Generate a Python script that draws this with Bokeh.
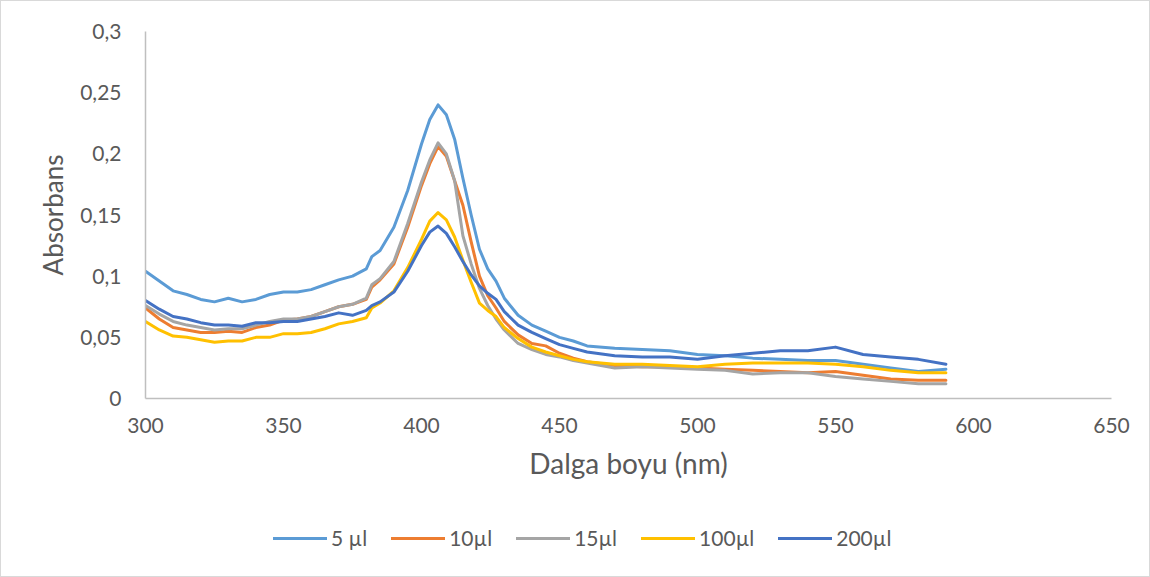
from bokeh.plotting import figure
from bokeh.layouts import column
from bokeh.models import Legend, LegendItem, CustomJSTickFormatter, FixedTicker, Range1d
from bokeh.embed import file_html
from bokeh.resources import INLINE

wavelength = [300,305,310,315,320,325,330,335,340,345,350,355,360,365,370,375,380,382,385,390,395,400,
              403,406,409,412,415,418,421,424,427,430,435,440,445,450,455,460,470,480,490,500,510,520,
              530,540,550,560,570,580,590]

s5 = [.104,.096,.088,.085,.081,.079,.082,.079,.081,.085,.087,.087,.089,.093,.097,.100,.106,.116,.121,.140,.170,.208,
      .228,.240,.232,.212,.180,.150,.122,.106,.096,.082,.068,.060,.055,.050,.047,.043,.041,.040,.039,.036,.035,.033,
      .032,.031,.031,.028,.025,.022,.024]
s10 = [.074,.065,.058,.056,.054,.054,.055,.054,.058,.060,.064,.065,.067,.071,.075,.077,.081,.091,.097,.110,.140,.174,
       .192,.206,.198,.178,.158,.128,.100,.084,.074,.063,.052,.045,.043,.037,.033,.030,.027,.026,.026,.025,.024,.023,
       .022,.021,.022,.019,.016,.015,.015]
s15 = [.076,.069,.063,.060,.058,.056,.057,.057,.060,.063,.065,.065,.067,.071,.075,.077,.082,.093,.098,.112,.143,.177,
       .195,.209,.200,.178,.133,.110,.090,.076,.065,.056,.045,.040,.036,.034,.031,.029,.025,.026,.025,.024,.023,.020,
       .021,.021,.018,.016,.014,.012,.012]
s100 = [.063,.056,.051,.050,.048,.046,.047,.047,.050,.050,.053,.053,.054,.057,.061,.063,.066,.074,.078,.088,.107,.130,
        .145,.152,.146,.132,.113,.095,.078,.072,.067,.058,.049,.042,.038,.035,.032,.030,.028,.028,.027,.026,.028,.029,
        .029,.029,.028,.026,.023,.021,.021]
s200 = [.080,.073,.067,.065,.062,.060,.060,.059,.062,.062,.063,.063,.065,.067,.070,.068,.072,.076,.079,.087,.104,.125,
        .136,.141,.135,.124,.112,.101,.092,.086,.081,.071,.060,.054,.049,.044,.041,.038,.035,.034,.034,.032,.035,.037,
        .039,.039,.042,.036,.034,.032,.028]

series_names = ["5 µl", "10µl", "15µl", "100µl", "200µl"]
series_values = [s5, s10, s15, s100, s200]
colors = ["#5B9BD5", "#ED7D31", "#A5A5A5", "#FFC000", "#4472C4"]
x_ticks = [300, 350, 400, 450, 500, 550, 600, 650]
y_ticks = [0, 0.05, 0.1, 0.15, 0.2, 0.25, 0.3]

FONT = "Lato"
TXT = "#595959"

p = figure(width=1148, height=489, output_backend="svg", toolbar_location=None,
           x_range=Range1d(300, 650), y_range=Range1d(0, 0.3),
           min_border_left=144, min_border_right=38, min_border_top=30, min_border_bottom=92)
p.outline_line_color = None
p.grid.visible = False
p.background_fill_color = "white"
p.border_fill_color = "white"

for name, vals, c in zip(series_names, series_values, colors):
    p.line(wavelength, vals, line_color=c, line_width=3, line_join="round", line_cap="round")

for ax in (p.xaxis[0], p.yaxis[0]):
    ax.axis_line_color = "#BFBFBF"
    ax.axis_line_width = 1.5
    ax.major_tick_line_color = None
    ax.minor_tick_line_color = None
    ax.major_label_text_font = FONT
    ax.major_label_text_font_size = "21px"
    ax.major_label_text_color = TXT
    ax.axis_label_text_font = FONT
    ax.axis_label_text_color = TXT
    ax.axis_label_text_font_style = "normal"

p.xaxis[0].axis_label_text_font_size = "28px"
p.yaxis[0].axis_label_text_font_size = "26px"
p.xaxis[0].ticker = FixedTicker(ticks=x_ticks)
p.yaxis[0].ticker = FixedTicker(ticks=y_ticks)
p.yaxis[0].formatter = CustomJSTickFormatter(code="""
var s = tick.toFixed(2);
s = s.replace(/0+$/, '').replace(/\\.$/, '');
return s.replace('.', ',');
""")
p.xaxis[0].axis_label = "Dalga boyu (nm)"
p.yaxis[0].axis_label = "Absorbans"
p.xaxis[0].major_label_standoff = 13
p.yaxis[0].major_label_standoff = 18
p.xaxis[0].axis_label_standoff = 10
p.yaxis[0].axis_label_standoff = 8

# legend strip below the chart (its lines sit outside its own visible window)
pl = figure(width=1148, height=86, output_backend="svg", toolbar_location=None,
            x_axis_type=None, y_axis_type=None,
            x_range=Range1d(300, 650), y_range=Range1d(10, 11),
            min_border_left=0, min_border_right=0, min_border_top=0, min_border_bottom=0)
pl.outline_line_color = None
pl.grid.visible = False
pl.border_fill_color = "white"
pl.background_fill_color = "white"
items = []
for name, vals, c in zip(series_names, series_values, colors):
    r = pl.line(wavelength, vals, line_color=c, line_width=3, line_cap="round")
    items.append(LegendItem(label=name, renderers=[r]))
legend = Legend(items=items, orientation="horizontal", location=(128, 26),
                label_text_font=FONT, label_text_font_size="21px", label_text_color=TXT,
                glyph_width=54, glyph_height=22, label_standoff=4, spacing=24,
                label_text_baseline="middle",
                border_line_color=None, background_fill_alpha=0, margin=0, padding=0)
pl.add_layout(legend, "center")

layout = column(p, pl, spacing=0)
layout.styles = {"border": "1px solid #D9D9D9"}

open("out.html", "w").write(file_html(layout, INLINE))
